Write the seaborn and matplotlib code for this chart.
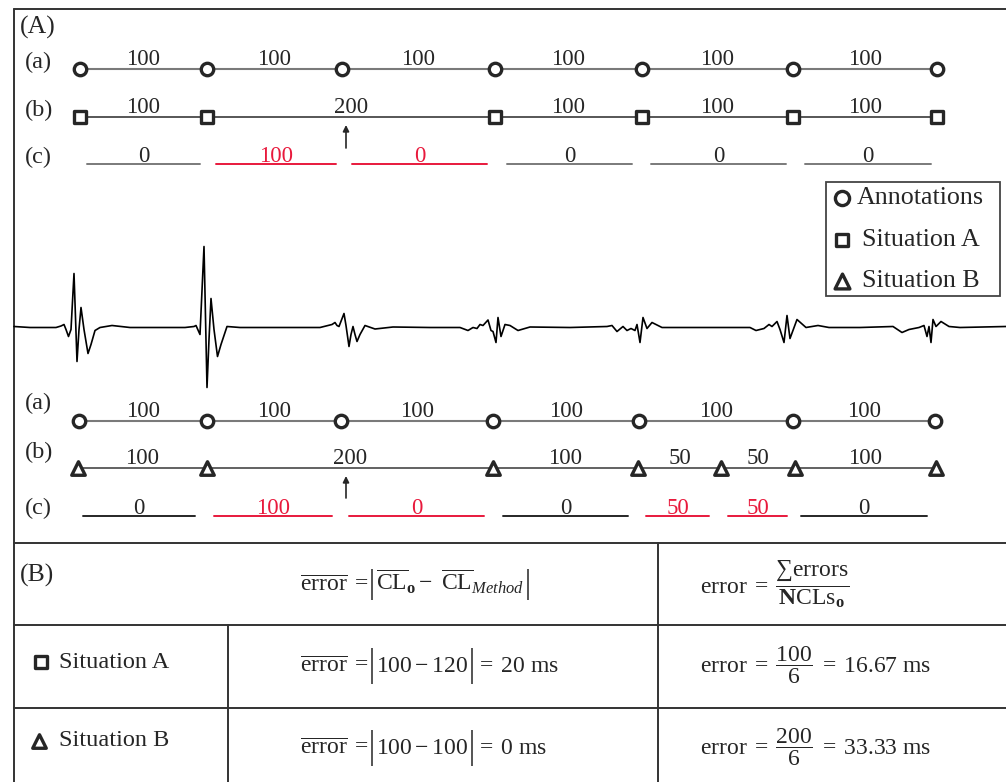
import matplotlib
matplotlib.use("Agg")
import matplotlib.pyplot as plt
import matplotlib.patches as mpatches
import seaborn as sns

sns.set_theme(style="white")
plt.rcParams["font.family"] = ["Liberation Serif", "DejaVu Serif"]
plt.rcParams["mathtext.fontset"] = "custom"
plt.rcParams["mathtext.rm"] = "Liberation Serif"
plt.rcParams["mathtext.it"] = "Liberation Serif:italic"
plt.rcParams["mathtext.bf"] = "Liberation Serif:bold"

# ---------------- data ----------------
# beat positions along the strip (horizontal units of the drawing)
annot_top = [80, 207, 342, 495, 642, 793, 937]
sitA_top = [80, 207, 495, 642, 793, 937]
annot_bot = [79, 207, 341, 493, 639, 793, 935]
sitB_bot = [78, 207, 493, 638, 721, 795, 936]

# cycle lengths (ms) written between consecutive beats
annot_cl = [100, 100, 100, 100, 100, 100]
sitA_cl = [100, 200, 100, 100, 100]
sitB_cl = [100, 200, 100, 50, 50, 100]

# per-cycle errors (ms) with the span of each error bar
errA_spans = [(87, 200), (216, 336), (352, 487), (507, 632), (651, 786), (805, 931)]
errA_vals = [0, 100, 0, 0, 0, 0]
errA_flag = [False, True, True, False, False, False]
errB_spans = [(83, 195), (214, 332), (349, 484), (503, 628), (646, 709), (728, 787), (801, 927)]
errB_vals = [0, 100, 0, 0, 50, 50, 0]
errB_flag = [False, True, True, False, True, True, False]

# ECG trace: time and amplitude
ecg_t = [14, 30, 45, 56, 61, 64, 66, 68.5, 71, 74, 77, 79, 81, 84, 88, 91, 95, 100,
         112, 130, 160, 185, 194, 196, 200, 204, 207, 209, 211, 214, 217.5, 221, 227,
         240, 280, 320, 332, 335, 337, 339, 344, 346, 349, 351, 353, 355, 357, 360,
         365, 375, 393, 430, 460, 468, 473, 477, 480, 483, 488, 491, 493, 496, 498,
         501, 505, 510, 518, 530, 570, 607, 612, 617, 623, 627, 631, 635, 637, 640,
         643, 647, 652, 662, 700, 750, 756, 764, 769, 772, 777, 780, 784, 787, 790,
         797, 806, 818, 829, 860, 893, 902, 909, 919, 924, 927, 929, 931, 933, 936,
         941, 949, 960, 1006]
ecg_v = [0.5, -0.5, -0.5, -0.5, 1, 2.5, -2.5, -9.5, -2.5, 53.5, -34.5, -2.5, 19.5,
         -2.5, -26.5, -17.5, -3.5, -0.5, 1.5, -0.5, -0.5, -0.5, 0.5, 1.5, -7.5, 80.5,
         -60.5, -12.5, 28.5, -2.5, -29.5, -17.5, 0.5, -0.5, -0.5, -0.5, 2.5, 4.5, 1.5,
         0.5, 13.5, 1.5, -19.5, -7.5, 0.5, -7.5, -14.5, -7.5, 1.5, -2, 0, -0.5, -0.5,
         -3.5, -0.5, -1.5, 2.5, 1.5, 7, -3.5, -4.5, -15.5, 9.5, -9.5, 2.5, 1.5, -3.5,
         0, -0.5, 0.5, 1.5, -4.5, 0.5, -3.5, -1.5, -3.5, 2.5, -15.5, 9.5, -1.5, 4.5,
         -0.5, -0.5, -0.5, -3.5, -1.5, 2.5, 0.5, 5.5, -2.5, -15.5, 11.5, -11.5, 7.5,
         -0.5, 1.5, -0.5, -0.5, 0.5, -5.5, -2.5, -0.5, 1.5, -9.5, 0.5, -15.5, 7.5, 0.5,
         5.5, 0.5, -0.5, 0.5]

legend_labels = ["Annotations", "Situation A", "Situation B"]

# ---------------- styles ----------------
DARK = "#262626"
GRAY = "#7a7a7a"
RED = "#e8193c"
FS_NUM = 16.5
FS_LBL = 17.5
FS_EQ = 17

W, H = 1006, 782
fig = plt.figure(figsize=(W / 100, H / 100), dpi=100)
fig.patch.set_facecolor("white")
ax = fig.add_axes([0, 0, 1, 1])
ax.set_xlim(0, W)
ax.set_ylim(H, 0)
ax.axis("off")
renderer = fig.canvas.get_renderer()

MARKER_SIZE = {"o": 80, "s": 78, "^": 95}


def markers(xs, y, marker, scale=1.0):
    sns.scatterplot(x=xs, y=[y] * len(xs), marker=marker,
                    s=MARKER_SIZE[marker] * scale, color="white", edgecolor=DARK,
                    linewidth=2.4, ax=ax, zorder=4, legend=False)


def timeline(xs, y, marker, values, line_color, lw):
    ax.plot([xs[0], xs[-1]], [y, y], color=line_color, lw=lw, zorder=2,
            solid_capstyle="butt")
    markers(xs, y, marker)
    for i, v in enumerate(values):
        ax.text((xs[i] + xs[i + 1]) / 2, y - 4, str(v), ha="center",
                va="baseline", fontsize=FS_NUM, color=DARK)


def error_row(spans, values, flags, y, line_color):
    for (x0, x1), v, f in zip(spans, values, flags):
        ax.plot([x0, x1], [y, y], color=RED if f else line_color, lw=1.4, zorder=2)
        ax.text((x0 + x1) / 2, y - 2.5, str(v), ha="center", va="baseline",
                fontsize=FS_NUM, color=RED if f else DARK)


def arrow(x, y0, y1):
    ax.annotate("", xy=(x, y1), xytext=(x, y0),
                arrowprops=dict(arrowstyle="-|>", color=DARK, lw=1.2,
                                mutation_scale=9, shrinkA=0, shrinkB=0))


def equation(x, base, parts, bar=(-23, 10)):
    """Lay out equation pieces left to right; '|' draws a tall absolute-value bar."""
    for p in parts:
        if p == "|":
            x += 3
            ax.plot([x + 1, x + 1], [base + bar[0], base + bar[1]], color=DARK,
                    lw=1.1, solid_capstyle="butt")
            x += 5
        else:
            t = ax.text(x, base, p, ha="left", va="baseline", fontsize=FS_EQ,
                        color=DARK)
            x += t.get_window_extent(renderer=renderer).width


# ---------------- frame and table rules ----------------
frame_kw = dict(color="#333333", lw=1.4, zorder=1)
ax.plot([14, W], [9, 9], **frame_kw)
ax.plot([14, 14], [9, H], **frame_kw)
for y in (543, 625, 708):
    ax.plot([14, W], [y, y], **frame_kw)
ax.plot([658, 658], [543, H], **frame_kw)
ax.plot([228, 228], [625, H], **frame_kw)

# ---------------- panel A: situation A ----------------
ax.text(20, 27, "(A)", ha="left", va="center", fontsize=FS_LBL + 1, color=DARK)
for lbl, y in (("(a)", 62), ("(b)", 110), ("(c)", 157)):
    ax.text(25, y, lbl, ha="left", va="center", fontsize=FS_LBL, color=DARK)
timeline(annot_top, 69, "o", annot_cl, GRAY, 1.5)
timeline(sitA_top, 117, "s", sitA_cl, "#3a3a3a", 1.2)
arrow(346, 148, 125)
error_row(errA_spans, errA_vals, errA_flag, 164, GRAY)

# ---------------- ECG strip ----------------
ax_ecg = fig.add_axes([0, 1 - 395 / H, 1, 155 / H])
ax_ecg.set_xlim(0, W)
ax_ecg.set_ylim(-68, 87)
ax_ecg.axis("off")
ax_ecg.patch.set_alpha(0)
sns.lineplot(x=ecg_t, y=ecg_v, sort=False, estimator=None, color="black",
             lw=1.2, ax=ax_ecg)

# ---------------- legend ----------------
ax.add_patch(mpatches.Rectangle((826, 182), 174, 114, fill=False,
                                edgecolor="#444444", lw=1.3, zorder=3))
for (m, lbl, y, tx, sc) in zip(["o", "s", "^"], legend_labels, [198, 240, 281],
                               [857, 862, 862], [1.3, 1.1, 1.2]):
    markers([842], y, m, scale=sc)
    ax.text(tx, y, lbl, ha="left", va="center", fontsize=18.7, color=DARK)

# ---------------- panel A: situation B ----------------
for lbl, y in (("(a)", 403), ("(b)", 452), ("(c)", 508)):
    ax.text(25, y, lbl, ha="left", va="center", fontsize=FS_LBL, color=DARK)
timeline(annot_bot, 421, "o", annot_cl, GRAY, 1.5)
timeline(sitB_bot, 468, "^", sitB_cl, "#555555", 1.3)
arrow(346, 498, 476)
error_row(errB_spans, errB_vals, errB_flag, 516, DARK)

# ---------------- panel B: table ----------------
ax.text(20, 575, "(B)", ha="left", va="center", fontsize=FS_LBL + 1, color=DARK)
equation(300, 591, [r"$\overline{\mathrm{error}}\;=$", "|",
                    r"$\overline{\mathrm{CL}}_{\mathbf{o}}-\ \overline{\mathrm{CL}}_{Method}$",
                    "|"], bar=(-22, 9))
ax.text(700, 584,
        r"$\mathrm{error}\;=\;\dfrac{\sum\mathrm{errors}}{\mathbf{N}\mathrm{CLs}_{\mathbf{o}}}$",
        ha="left", va="center", fontsize=FS_EQ, color=DARK)

markers([41], 662, "s")
ax.text(59, 662, "Situation A", ha="left", va="center", fontsize=FS_LBL, color=DARK)
markers([39], 741, "^")
ax.text(59, 741, "Situation B", ha="left", va="center", fontsize=FS_LBL, color=DARK)

equation(300, 672, [r"$\overline{\mathrm{error}}\;=$", "|", r"$100-120$", "|",
                    r"$=\;20\ \mathrm{ms}$"], bar=(-24, 12))
equation(300, 754, [r"$\overline{\mathrm{error}}\;=$", "|", r"$100-100$", "|",
                    r"$=\;0\ \mathrm{ms}$"], bar=(-24, 12))
ax.text(700, 665, r"$\mathrm{error}\;=\;\dfrac{100}{6}\;=\;16.67\ \mathrm{ms}$",
        ha="left", va="center", fontsize=FS_EQ, color=DARK)
ax.text(700, 747, r"$\mathrm{error}\;=\;\dfrac{200}{6}\;=\;33.33\ \mathrm{ms}$",
        ha="left", va="center", fontsize=FS_EQ, color=DARK)

fig.savefig("out.png", dpi=100, facecolor="white")
